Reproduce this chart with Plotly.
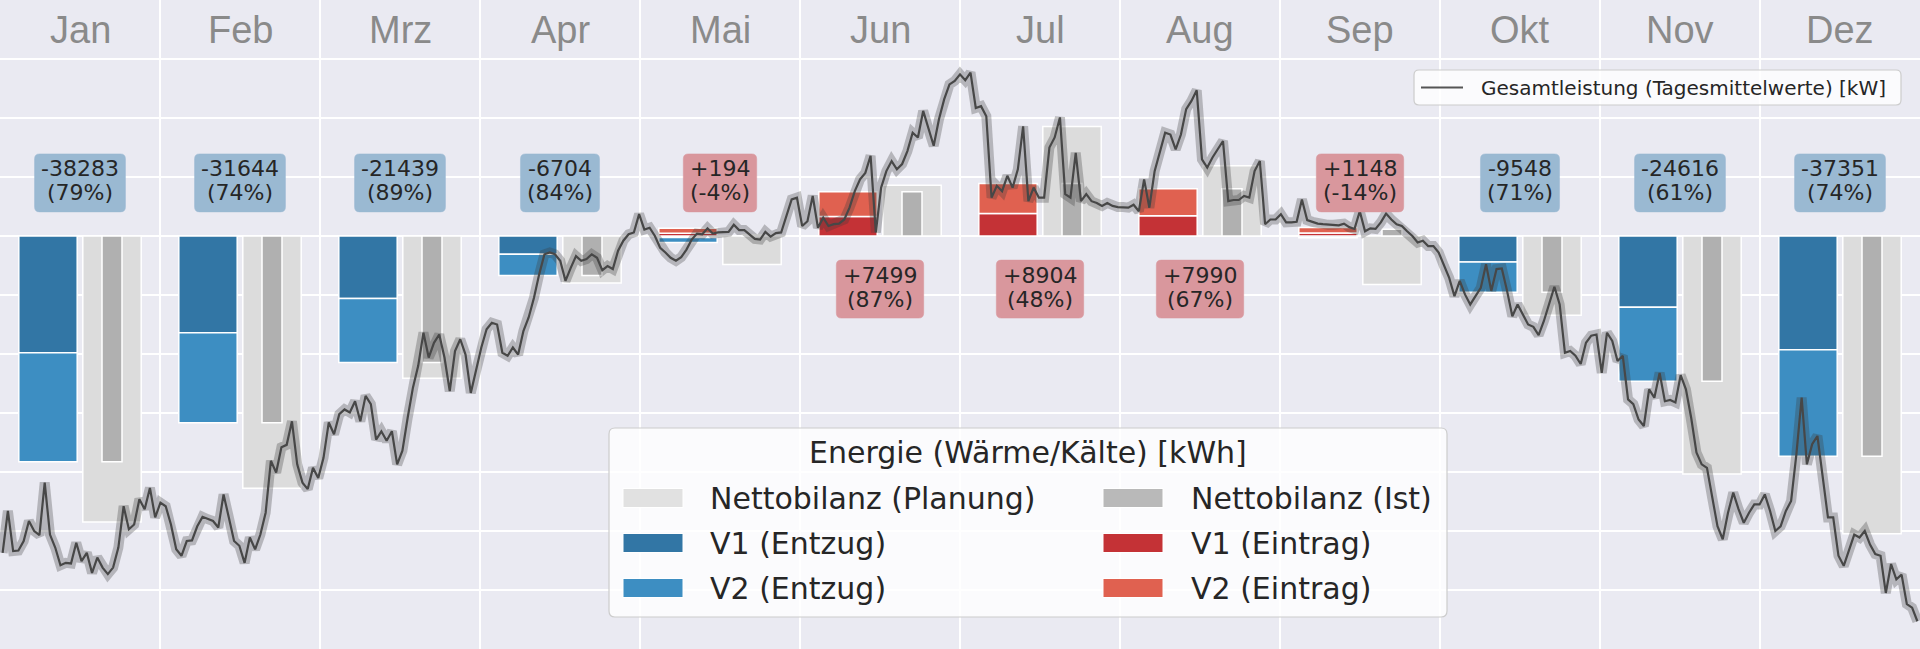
import plotly.graph_objects as go

# ---------------- data ----------------
months = ["Jan", "Feb", "Mrz", "Apr", "Mai", "Jun", "Jul", "Aug", "Sep", "Okt", "Nov", "Dez"]

# monthly energy [kWh]
v1_entzug = [19800, 16400, 10600, 3100, 250, 0, 0, 0, 0, 4420, 12070, 19270]
v2_entzug = [18483, 15244, 10839, 3604, 850, 0, 0, 0, 302, 5128, 12546, 18081]
v1_eintrag = [0, 0, 0, 0, 450, 3300, 3800, 3450, 500, 0, 0, 0]
v2_eintrag = [0, 0, 0, 0, 844, 4199, 5104, 4540, 950, 0, 0, 0]
netto_planung = [-48459, -42762, -24089, -7981, -4850, 8620, 18550, 11925, -8200, -13448, -40354, -50474]

# daily mean total power [kW]
kw_jan = [-53.7, -46.6, -53.4, -53.3, -51.7, -48.3, -50.0, -50.7, -41.8, -50.6, -52.8, -55.8, -55.4, -55.5, -52.0,
          -55.1, -53.7, -57.1, -54.5, -56.2, -57.3, -56.2, -52.8, -45.8, -49.7, -48.9, -44.6, -46.3, -42.7, -47.7, -45.2]
kw_feb = [-45.8, -48.9, -53.1, -54.2, -51.7, -51.6, -49.2, -47.6, -48.0, -48.3, -49.4, -43.8, -47.7, -51.7, -52.5,
          -55.4, -51.1, -53.1, -50.6, -46.9, -38.1, -40.1, -35.8, -35.4, -31.4, -38.7, -41.8, -42.9]
kw_mrz = [-39.3, -41.0, -37.6, -31.6, -33.6, -30.2, -29.4, -29.9, -28.0, -31.4, -27.1, -28.5, -34.5, -33.1, -34.7,
          -33.1, -38.7, -36.4, -30.8, -25.7, -22.0, -16.4, -20.6, -18.1, -16.7, -20.6, -26.3, -19.5, -17.5, -20.1, -26.6]
kw_apr = [-22.9, -18.9, -15.8, -14.7, -15.0, -19.8, -20.3, -18.9, -20.1, -16.1, -13.8, -10.5, -6.5, -3.1, -2.8,
          -3.1, -4.2, -7.6, -5.4, -3.4, -4.2, -3.9, -3.1, -3.7, -5.8, -5.1, -5.6, -2.5, -0.8, 0.3]
kw_mai = [0.6, 3.7, 1.1, 1.4, 0.0, -2.0, -2.8, -3.7, -4.2, -3.6, -2.3, -0.6, 0.4, 0.3, 1.3,
          0.4, 0.6, 0.6, 0.7, 1.9, 1.0, 1.0, 0.3, -0.5, -0.6, 0.7, -0.1, 0.5, 0.6, 3.4, 6.2]
kw_jun = [6.5, 1.7, 2.5, 6.8, 1.4, 3.1, 1.7, 2.0, 2.1, 2.8, 4.8, 7.6, 9.6, 10.7, 13.6,
          0.6, 8.2, 11.0, 12.7, 11.3, 12.2, 14.4, 17.5, 16.7, 21.2, 18.1, 15.3, 19.8, 23.2, 25.7]
kw_jul = [26.3, 27.4, 26.4, 27.7, 21.7, 22.0, 20.3, 6.5, 8.5, 7.6, 10.2, 8.2, 11.3, 18.6, 5.9,
          8.2, 6.5, 6.5, 15.0, 16.7, 20.1, 7.1, 6.5, 14.1, 5.9, 7.1, 5.9, 5.6, 5.1, 5.6, 5.1]
kw_aug = [4.9, 4.9, 4.8, 5.3, 4.2, 9.6, 4.8, 11.0, 14.1, 17.5, 17.2, 14.7, 17.2, 21.5, 22.9,
          24.7, 13.0, 11.6, 13.3, 14.7, 16.1, 5.9, 6.1, 6.1, 6.8, 6.5, 11.0, 12.7, 2.0, 2.8, 2.8]
kw_sep = [3.7, 2.3, 2.3, 2.4, 6.2, 2.7, 2.4, 2.1, 2.0, 1.9, 1.9, 1.8, 2.1, 1.5, 1.2,
          4.2, 0.8, 1.3, 1.2, 2.3, 3.8, 2.8, 2.0, 1.7, 0.8, 0.0, -1.1, -0.8, -1.7, -1.7]
kw_okt = [-2.8, -5.1, -7.1, -10.2, -7.6, -9.9, -11.6, -10.2, -8.8, -4.8, -9.3, -5.6, -5.5, -9.3, -13.6,
          -11.6, -13.3, -15.0, -15.4, -16.8, -14.4, -11.6, -8.6, -11.6, -19.8, -19.5, -20.3, -21.7, -18.1, -16.9, -16.7]
kw_nov = [-23.2, -16.4, -17.8, -21.2, -20.3, -27.7, -28.5, -31.1, -32.2, -26.0, -27.4, -23.2, -28.0, -27.8, -28.2,
          -23.6, -26.0, -30.8, -36.7, -38.7, -39.3, -44.4, -49.2, -51.4, -46.9, -43.5, -46.3, -48.6, -46.9, -45.5]
kw_dez = [-45.5, -43.8, -46.6, -50.0, -49.2, -46.6, -44.9, -37.0, -27.4, -38.7, -35.3, -33.9, -40.4, -47.7, -47.7,
          -54.2, -55.9, -53.4, -50.6, -51.1, -50.0, -52.3, -53.9, -54.2, -60.5, -55.6, -58.2, -57.4, -62.4, -63.0, -65.3]

# ---------------- styling ----------------
W, H = 1920, 649
BG = "#EAEAF2"
TXT = "#262626"
C_PLAN, C_PLAN_LEG = "#DCDCDC", "#E1E1E1"
C_IST, C_IST_LEG = "#B0B0B0", "#B9B9B9"
C_V1_ENT = "#3276A5"
C_V2_ENT = "#3D8EC2"
C_V1_EIN = "#C43236"
C_V2_EIN = "#E06150"
BOX_BLUE = "#9AB9D2"
BOX_RED = "#D9979D"

ist = [e1 + e2 - n1 - n2 for e1, e2, n1, n2 in zip(v1_eintrag, v2_eintrag, v1_entzug, v2_entzug)]

fig = go.Figure()
x_flow = [k + 0.3 for k in range(12)]
x_net = [k + 0.7 for k in range(12)]


def add_bar(xs, vals, bases, color, width):
    xx, yy, bb = [], [], []
    for x, v, b in zip(xs, vals, bases):
        if v != 0:
            xx.append(x)
            yy.append(v)
            bb.append(b)
    fig.add_trace(go.Bar(x=xx, y=yy, base=bb, width=width,
                         marker=dict(color=color, line=dict(color="white", width=1.5)),
                         showlegend=False, hoverinfo="skip"))


zeros = [0] * 12
add_bar(x_net, netto_planung, zeros, C_PLAN, 0.365)
add_bar(x_net, ist, zeros, C_IST, 0.125)
add_bar(x_flow, [-v for v in v1_entzug], zeros, C_V1_ENT, 0.365)
add_bar(x_flow, [-v for v in v2_entzug], [-v for v in v1_entzug], C_V2_ENT, 0.365)
add_bar(x_flow, v1_eintrag, zeros, C_V1_EIN, 0.365)
add_bar(x_flow, v2_eintrag, v1_eintrag, C_V2_EIN, 0.365)

# daily line on secondary axis (kW)
daily = kw_jan + kw_feb + kw_mrz + kw_apr + kw_mai + kw_jun + kw_jul + kw_aug + kw_sep + kw_okt + kw_nov + kw_dez
nd = len(daily)
xd = [(i + 0.5) * 12 / nd for i in range(nd)]
fig.add_trace(go.Scatter(x=xd, y=daily, yaxis="y2", mode="lines",
                         line=dict(color="rgba(60,60,60,0.3)", width=10), showlegend=False, hoverinfo="skip"))
fig.add_trace(go.Scatter(x=xd, y=daily, yaxis="y2", mode="lines",
                         line=dict(color="#474747", width=2.2), showlegend=False, hoverinfo="skip"))

# ---------------- annotations ----------------
ADV = {"0": 0.636, "1": 0.636, "2": 0.636, "3": 0.636, "4": 0.636, "5": 0.636, "6": 0.636, "7": 0.636,
       "8": 0.636, "9": 0.636, "+": 0.838, "-": 0.361, "(": 0.390, ")": 0.390, "%": 0.950}


def tw(s, size):
    return sum(ADV.get(c, 0.6) for c in s) * size


def rr_rel(hw, hh, r):
    return (f"M {-hw + r},{-hh} L {hw - r},{-hh} Q {hw},{-hh} {hw},{-hh + r} L {hw},{hh - r} "
            f"Q {hw},{hh} {hw - r},{hh} L {-hw + r},{hh} Q {-hw},{hh} {-hw},{hh - r} "
            f"L {-hw},{-hh + r} Q {-hw},{-hh} {-hw + r},{-hh} Z")


FS = 22
for k in range(12):
    val = ist[k]
    pct = round(val / netto_planung[k] * 100)
    l1 = f"{val:+d}"
    l2 = f"({pct}%)"
    yc = 9000 if val < 5000 else -9000
    col = BOX_BLUE if val < 0 else BOX_RED
    bw = max(tw(l1, FS), tw(l2, FS)) + 13
    fig.add_shape(type="path", xref="x", yref="y", xsizemode="pixel", ysizemode="pixel",
                  xanchor=k + 0.5, yanchor=yc, path=rr_rel(bw / 2, 29, 5),
                  fillcolor=col, line=dict(color=col, width=0.5), layer="above")
    fig.add_annotation(x=k + 0.5, y=yc, text=l1, showarrow=False, yshift=14,
                       font=dict(size=FS, color=TXT, family="DejaVu Sans"))
    fig.add_annotation(x=k + 0.5, y=yc, text=l2, showarrow=False, yshift=-10,
                       font=dict(size=FS, color=TXT, family="DejaVu Sans"))
    fig.add_annotation(x=k + 0.5, y=35000, text=months[k], showarrow=False,
                       font=dict(size=38, color="#8A8A8A", family="Liberation Sans, Arial"))


# ---------------- legends (drawn in pixel space of the page) ----------------
def px(x):
    return x / W


def py(y):
    return 1 - y / H


def rr_paper(x0, y0, x1, y1, r):
    X = px
    Y = py
    return (f"M {X(x0 + r)},{Y(y0)} L {X(x1 - r)},{Y(y0)} Q {X(x1)},{Y(y0)} {X(x1)},{Y(y0 + r)} "
            f"L {X(x1)},{Y(y1 - r)} Q {X(x1)},{Y(y1)} {X(x1 - r)},{Y(y1)} L {X(x0 + r)},{Y(y1)} "
            f"Q {X(x0)},{Y(y1)} {X(x0)},{Y(y1 - r)} L {X(x0)},{Y(y0 + r)} Q {X(x0)},{Y(y0)} {X(x0 + r)},{Y(y0)} Z")


LEG_FILL = "rgba(255,255,255,0.82)"
LEG_LINE = "#CCCCCC"

# legend 1: line
fig.add_shape(type="path", xref="paper", yref="paper", path=rr_paper(1414, 70, 1901, 105, 5),
              fillcolor=LEG_FILL, line=dict(color=LEG_LINE, width=1.2), layer="above")
fig.add_shape(type="line", xref="paper", yref="paper", x0=px(1421), x1=px(1463), y0=py(87.5), y1=py(87.5),
              line=dict(color="#555555", width=2), layer="above")
fig.add_annotation(xref="paper", yref="paper", x=px(1479), y=py(87.5), xanchor="left", yanchor="middle",
                   text="Gesamtleistung (Tagesmittelwerte) [kW]", showarrow=False,
                   font=dict(size=20, color=TXT, family="DejaVu Sans"))

# legend 2: bars
fig.add_shape(type="path", xref="paper", yref="paper", path=rr_paper(609, 428, 1447, 617, 6),
              fillcolor=LEG_FILL, line=dict(color=LEG_LINE, width=1.2), layer="above")
fig.add_annotation(xref="paper", yref="paper", x=px(1028), y=py(452.5), xanchor="center", yanchor="middle",
                   text="Energie (Wärme/Kälte) [kWh]", showarrow=False,
                   font=dict(size=30, color=TXT, family="DejaVu Sans"))
legend_items = [
    ("Nettobilanz (Planung)", C_PLAN_LEG, 0, 0),
    ("Nettobilanz (Ist)", C_IST_LEG, 1, 0),
    ("V1 (Entzug)", C_V1_ENT, 0, 1),
    ("V1 (Eintrag)", C_V1_EIN, 1, 1),
    ("V2 (Entzug)", C_V2_ENT, 0, 2),
    ("V2 (Eintrag)", C_V2_EIN, 1, 2),
]
col_patch = [623, 1103]
col_text = [708, 1189]
for label, color, c, r in legend_items:
    yc = 498 + 45 * r
    fig.add_shape(type="rect", xref="paper", yref="paper", x0=px(col_patch[c]), x1=px(col_patch[c] + 60),
                  y0=py(yc - 9.5), y1=py(yc + 9.5), fillcolor=color, line=dict(color="white", width=1),
                  layer="above")
    fig.add_annotation(xref="paper", yref="paper", x=px(col_text[c]), y=py(yc), xanchor="left", yanchor="middle",
                       text=label, showarrow=False, font=dict(size=30, color=TXT, family="DejaVu Sans"))

fig.update_layout(
    width=W, height=H, margin=dict(l=0, r=0, t=0, b=0),
    paper_bgcolor=BG, plot_bgcolor=BG, barmode="overlay", showlegend=False,
    font=dict(family="DejaVu Sans", color=TXT),
    xaxis=dict(range=[0, 12], tickmode="array", tickvals=list(range(13)), showticklabels=False,
               showgrid=True, gridcolor="white", gridwidth=1.6, zeroline=False, ticks="", fixedrange=True),
    yaxis=dict(range=[-70000, 40000], tick0=0, dtick=10000, showticklabels=False,
               showgrid=True, gridcolor="white", gridwidth=1.6, zeroline=False, ticks="", fixedrange=True),
    yaxis2=dict(range=[-70, 40], overlaying="y", showgrid=False, showticklabels=False, zeroline=False,
                ticks="", fixedrange=True),
)

fig.write_html("out.html")
